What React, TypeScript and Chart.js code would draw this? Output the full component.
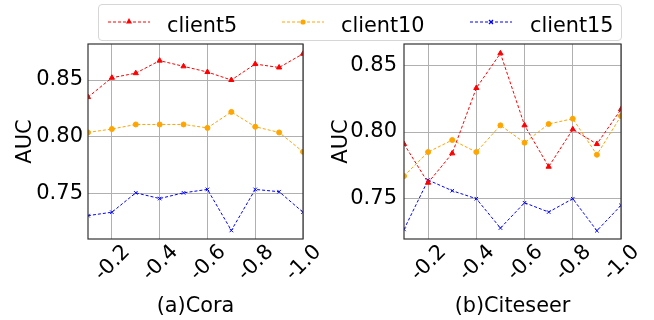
import React, { useEffect, useRef } from "react";
import { Chart, registerables } from "chart.js";

Chart.register(...registerables);
Chart.defaults.font.family = "'DejaVu Sans', sans-serif";
Chart.defaults.color = "#000";

const xValues = [-0.1, -0.2, -0.3, -0.4, -0.5, -0.6, -0.7, -0.8, -0.9, -1.0];
const xTicks = [-0.2, -0.4, -0.6, -0.8, -1.0];
const yTicks = [0.75, 0.8, 0.85];
const seriesNames = ["client5", "client10", "client15"];
const seriesColors = ["#ff0000", "#ffa500", "#0000ff"];
const pointStyles = ["triangle", "circle", "crossRot"];
const pointRadii = [3, 2.5, 2.5];

const coraClient5 = [0.835, 0.852, 0.856, 0.867, 0.862, 0.857, 0.85, 0.864, 0.861, 0.873];
const coraClient10 = [0.804, 0.807, 0.811, 0.811, 0.811, 0.808, 0.822, 0.809, 0.804, 0.787];
const coraClient15 = [0.731, 0.734, 0.751, 0.746, 0.751, 0.754, 0.718, 0.754, 0.752, 0.734];
const coraRange = [0.7105, 0.8816];

const citeseerClient5 = [0.791, 0.762, 0.784, 0.833, 0.859, 0.805, 0.774, 0.802, 0.791, 0.817];
const citeseerClient10 = [0.767, 0.785, 0.794, 0.785, 0.805, 0.792, 0.806, 0.81, 0.783, 0.812];
const citeseerClient15 = [0.727, 0.764, 0.756, 0.75, 0.728, 0.747, 0.74, 0.75, 0.726, 0.745];
const citeseerRange = [0.7198, 0.866];

const framePlugin = {
  id: "frame",
  afterDatasetsDraw(chart: any) {
    const { ctx, chartArea: a } = chart;
    ctx.save();
    ctx.strokeStyle = "#333";
    ctx.lineWidth = 1.2;
    ctx.strokeRect(a.left, a.top, a.right - a.left, a.bottom - a.top);
    ctx.restore();
  },
};

type PanelProps = {
  left: number;
  width: number;
  plotLeft: number;
  plotRight: number;
  yTitlePad: number;
  yLabelPad: number;
  series: number[][];
  range: number[];
  title: string;
};

function Panel(p: PanelProps) {
  const ref = useRef<HTMLCanvasElement>(null);
  useEffect(() => {
    const chart = new Chart(ref.current as HTMLCanvasElement, {
      type: "line",
      data: {
        datasets: p.series.map((vals, i) => ({
          label: seriesNames[i],
          data: vals.map((y, j) => ({ x: xValues[j], y })),
          borderColor: seriesColors[i],
          backgroundColor: seriesColors[i],
          borderWidth: 1,
          borderDash: [3, 2],
          pointStyle: pointStyles[i] as any,
          pointRadius: pointRadii[i],
          pointBorderWidth: 1,
          pointBorderColor: seriesColors[i],
          pointBackgroundColor: seriesColors[i],
          fill: false,
          tension: 0,
          clip: 0 as any,
        })),
      },
      options: {
        responsive: false,
        animation: false,
        layout: { padding: { left: 0, top: 44, right: p.width - p.plotRight, bottom: 0 } },
        plugins: { legend: { display: false }, tooltip: { enabled: false } },
        scales: {
          x: {
            type: "linear",
            min: -1.0,
            max: -0.1,
            reverse: true,
            afterBuildTicks: (s: any) => {
              s.ticks = xTicks.map((v) => ({ value: v }));
            },
            afterFit: (s: any) => {
              s.height = 81;
            },
            grid: { color: "#b0b0b0", lineWidth: 1, drawTicks: false },
            border: { display: false },
            ticks: {
              autoSkip: false,
              minRotation: 45,
              maxRotation: 45,
              padding: 1,
              labelOffset: 15,
              font: { size: 20.8 },
              color: "#000",
              callback: (v: any) => Number(v).toFixed(1),
            },
            title: {
              display: true,
              text: p.title,
              font: { size: 20.8 },
              color: "#000",
              padding: { top: 0, bottom: 1 },
            },
          },
          y: {
            type: "linear",
            min: p.range[0],
            max: p.range[1],
            afterBuildTicks: (s: any) => {
              s.ticks = yTicks.map((v) => ({ value: v }));
            },
            afterFit: (s: any) => {
              s.width = p.plotLeft;
            },
            grid: { color: "#b0b0b0", lineWidth: 1, drawTicks: false },
            border: { display: false },
            ticks: {
              padding: p.yLabelPad,
              font: { size: 21 },
              color: "#000",
              callback: (v: any) => Number(v).toFixed(2),
            },
            title: {
              display: true,
              text: "AUC",
              font: { size: 21 },
              color: "#000",
              padding: { top: p.yTitlePad, bottom: 0 },
            },
          },
        },
      },
      plugins: [framePlugin],
    });
    return () => chart.destroy();
  }, []);
  return (
    <canvas
      ref={ref}
      width={p.width}
      height={320}
      style={{ position: "absolute", left: p.left, top: 0, width: p.width, height: 320 }}
    />
  );
}

function Marker({ i }: { i: number }) {
  const c = seriesColors[i];
  let m: any = null;
  if (i === 0) m = <polygon points="21,3 24,8.5 18,8.5" fill={c} />;
  else if (i === 1) m = <circle cx={21} cy={7} r={2.6} fill={c} />;
  else
    m = (
      <g stroke={c} strokeWidth={1.2}>
        <line x1={19} y1={5} x2={23} y2={9} />
        <line x1={23} y1={5} x2={19} y2={9} />
      </g>
    );
  return (
    <svg width={42} height={14} style={{ display: "block" }}>
      <line x1={0} y1={7} x2={42} y2={7} stroke={c} strokeWidth={1} strokeDasharray="3 2" />
      {m}
    </svg>
  );
}

const legendLineX = [9, 183, 371];
const legendTextX = [68, 242, 431];

function Legend() {
  return (
    <div
      style={{
        position: "absolute",
        left: 98,
        top: 4,
        width: 524,
        height: 37,
        border: "1px solid #d6d6d6",
        borderRadius: 4,
        background: "#fff",
        boxSizing: "border-box",
      }}
    >
      {seriesNames.map((n, i) => (
        <React.Fragment key={n}>
          <div style={{ position: "absolute", left: legendLineX[i], top: 10 }}>
            <Marker i={i} />
          </div>
          <div
            style={{
              position: "absolute",
              left: legendTextX[i],
              top: 4,
              fontFamily: "'DejaVu Sans', sans-serif",
              fontSize: 20.8,
              lineHeight: "32px",
              color: "#000",
              whiteSpace: "nowrap",
            }}
          >
            {n}
          </div>
        </React.Fragment>
      ))}
    </div>
  );
}

export default function App() {
  return (
    <div style={{ position: "absolute", left: 0, top: 0, width: 654, height: 320, background: "#fff" }}>
      <Panel
        left={0}
        width={327}
        plotLeft={88}
        plotRight={303}
        yTitlePad={13}
        yLabelPad={5}
        series={[coraClient5, coraClient10, coraClient15]}
        range={coraRange}
        title="(a)Cora"
      />
      <Panel
        left={327}
        width={327}
        plotLeft={77}
        plotRight={294}
        yTitlePad={1.5}
        yLabelPad={7}
        series={[citeseerClient5, citeseerClient10, citeseerClient15]}
        range={citeseerRange}
        title="(b)Citeseer"
      />
      <Legend />
    </div>
  );
}
